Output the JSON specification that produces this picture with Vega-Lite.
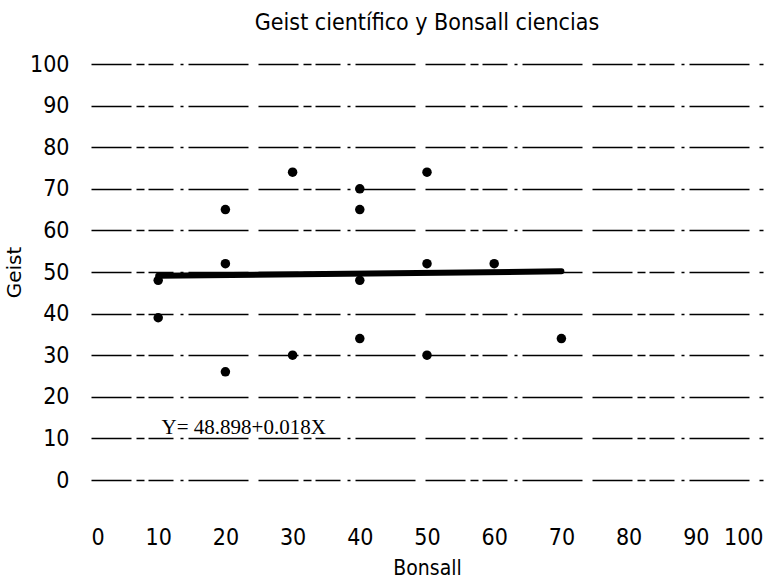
{
  "$schema": "https://vega.github.io/schema/vega-lite/v6.json",
  "width": 672,
  "height": 416,
  "autosize": {"type": "none"},
  "padding": {"left": 91, "top": 64, "right": 16, "bottom": 106},
  "background": "white",
  "title": {
    "text": "Geist científico y Bonsall ciencias",
    "font": "DejaVu Sans Condensed, Liberation Sans",
    "fontSize": 23,
    "fontWeight": "normal",
    "color": "black",
    "offset": 18,
    "anchor": "middle"
  },
  "datasets": {
    "pts": [
      {"Bonsall": 10, "Geist": 48},
      {"Bonsall": 10, "Geist": 39},
      {"Bonsall": 20, "Geist": 65},
      {"Bonsall": 20, "Geist": 52},
      {"Bonsall": 20, "Geist": 26},
      {"Bonsall": 30, "Geist": 74},
      {"Bonsall": 30, "Geist": 30},
      {"Bonsall": 40, "Geist": 70},
      {"Bonsall": 40, "Geist": 65},
      {"Bonsall": 40, "Geist": 48},
      {"Bonsall": 40, "Geist": 34},
      {"Bonsall": 50, "Geist": 74},
      {"Bonsall": 50, "Geist": 52},
      {"Bonsall": 50, "Geist": 30},
      {"Bonsall": 60, "Geist": 52},
      {"Bonsall": 70, "Geist": 34}
    ],
    "fit": [
      {"Bonsall": 10, "Geist": 49.08},
      {"Bonsall": 70, "Geist": 50.16}
    ],
    "eq": [
      {"Bonsall": 10.5, "Geist": 11, "label": "Y= 48.898+0.018X"}
    ]
  },
  "encoding": {
    "x": {
      "field": "Bonsall",
      "type": "quantitative",
      "scale": {"domain": [0, 100], "nice": false, "zero": false},
      "axis": {
        "values": [0, 10, 20, 30, 40, 50, 60, 70, 80, 90, 100],
        "title": "Bonsall",
        "grid": false,
        "domain": false,
        "ticks": false,
        "labelPadding": 46,
        "labelFont": "DejaVu Sans Condensed, Liberation Sans",
        "labelFontSize": 23,
        "labelColor": "black",
        "titleFont": "DejaVu Sans Condensed, Liberation Sans",
        "titleFontSize": 21,
        "titleFontWeight": "normal",
        "titleColor": "black",
        "titlePadding": 8
      }
    },
    "y": {
      "field": "Geist",
      "type": "quantitative",
      "scale": {"domain": [0, 100], "nice": false, "zero": false},
      "axis": {
        "values": [0, 10, 20, 30, 40, 50, 60, 70, 80, 90, 100],
        "title": "Geist",
        "grid": true,
        "gridColor": "black",
        "gridWidth": 1.5,
        "gridOpacity": 1,
        "gridDash": [40, 5, 8, 4, 25, 7, 3, 5, 60, 10],
        "domain": false,
        "ticks": false,
        "labelPadding": 22,
        "labelFont": "DejaVu Sans Condensed, Liberation Sans",
        "labelFontSize": 23,
        "labelColor": "black",
        "titleFont": "DejaVu Sans",
        "titleFontSize": 20,
        "titleFontWeight": "normal",
        "titleColor": "black",
        "titlePadding": 5
      }
    }
  },
  "layer": [
    {
      "data": {"name": "fit"},
      "mark": {"type": "line", "color": "black", "strokeWidth": 6, "strokeCap": "round"},
      "encoding": {}
    },
    {
      "data": {"name": "pts"},
      "mark": {"type": "point", "filled": true, "shape": "circle", "color": "black", "opacity": 1, "size": 90},
      "encoding": {}
    },
    {
      "data": {"name": "eq"},
      "mark": {"type": "text", "align": "left", "baseline": "alphabetic", "font": "Liberation Serif", "fontSize": 21, "color": "black"},
      "encoding": {"text": {"field": "label"}}
    }
  ],
  "config": {"view": {"stroke": null}}
}
